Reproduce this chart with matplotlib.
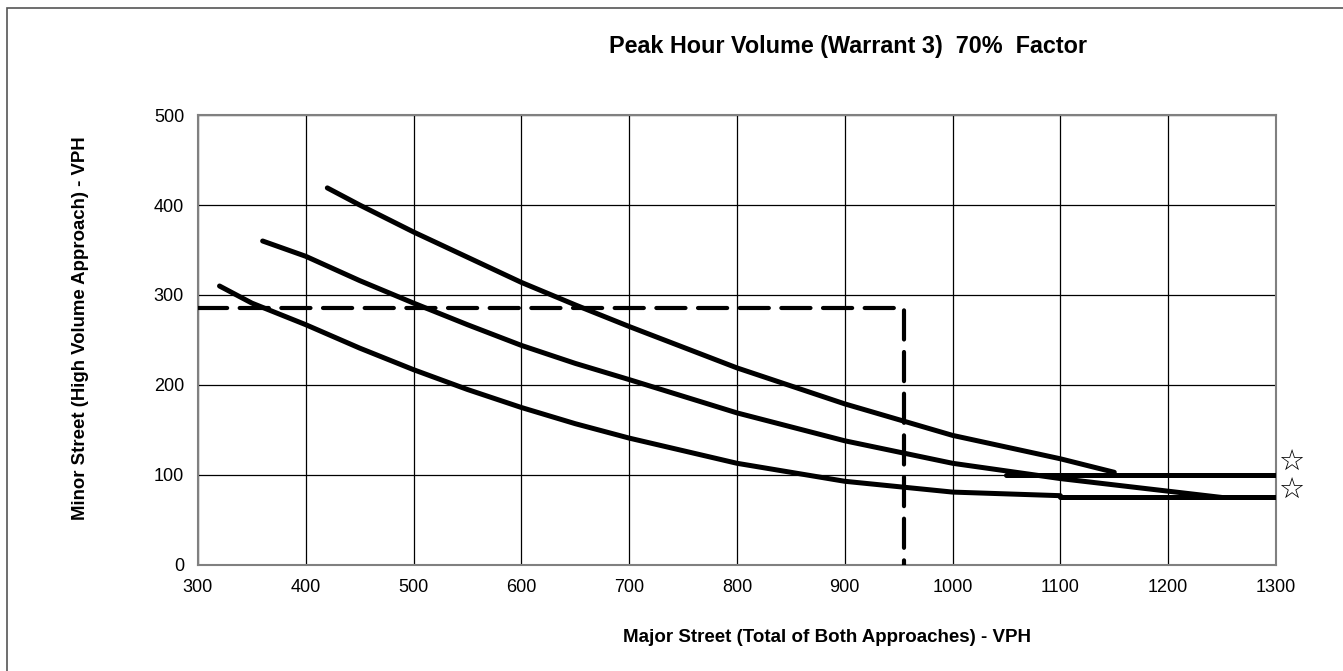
import matplotlib
matplotlib.use("Agg")
import matplotlib.pyplot as plt
from matplotlib.patches import Rectangle

plt.rcParams["font.family"] = ["Liberation Sans", "DejaVu Sans"]

# curves (major street vph, minor street vph)
top_x = [420, 450, 500, 550, 600, 650, 700, 800, 900, 1000, 1100, 1150]
top_y = [419, 400, 370, 342, 314, 289, 265, 219, 179, 144, 118, 103]
mid_x = [360, 400, 450, 500, 550, 600, 650, 700, 800, 900, 1000, 1100, 1200, 1250]
mid_y = [360, 343, 316, 291, 267, 244, 224, 206, 169, 138, 113, 96, 82, 75]
low_x = [320, 350, 400, 450, 500, 550, 600, 650, 700, 800, 900, 1000, 1100]
low_y = [310, 291, 267, 241, 217, 195, 175, 157, 141, 113, 93, 81, 77]

# lower thresholds
thr_hi_x = [1050, 1300]
thr_hi_y = [100, 100]
thr_lo_x = [1100, 1300]
thr_lo_y = [75, 75]

# the plotted point
major_vph = 955
minor_vph = 285

title = "Peak Hour Volume (Warrant 3)  70%  Factor"
xlabel = "Major Street (Total of Both Approaches) - VPH"
ylabel = "Minor Street (High Volume Approach) - VPH"
xticks = [300, 400, 500, 600, 700, 800, 900, 1000, 1100, 1200, 1300]
yticks = [0, 100, 200, 300, 400, 500]

fig = plt.figure(figsize=(13.43, 6.71), dpi=100)
ax = fig.add_axes([0.1474, 0.158, 0.8027, 0.6706])

lw = 3.6
for xs, ys in [(top_x, top_y), (mid_x, mid_y), (low_x, low_y),
               (thr_hi_x, thr_hi_y), (thr_lo_x, thr_lo_y)]:
    ax.plot(xs, ys, color="black", lw=lw, solid_capstyle="round",
            solid_joinstyle="round", zorder=3)

ax.plot([300, major_vph, major_vph], [minor_vph, minor_vph, 0],
        color="black", lw=3, dashes=(7, 3), dash_capstyle="round", zorder=4)

# stars beside the threshold lines
for yy in [115, 83]:
    ax.text(1314, yy, "\u2606", fontsize=21, ha="center", va="center",
            family="DejaVu Sans", clip_on=False)

ax.set_xlim(300, 1300)
ax.set_ylim(0, 500)
ax.set_xticks(xticks)
ax.set_yticks(yticks)
ax.grid(True, color="black", lw=0.9)
ax.set_axisbelow(True)
ax.tick_params(length=0, labelsize=13, pad=10)
for s in ax.spines.values():
    s.set_color("#808080")
    s.set_linewidth(1.5)

fig.text(0.6315, 0.93, title, ha="center", va="center", fontsize=16.8,
         fontweight="bold")
fig.text(0.6158, 0.05, xlabel, ha="center", va="center", fontsize=13.5,
         fontweight="bold")
fig.text(0.0596, 0.5104, ylabel, ha="center", va="center", fontsize=13.4,
         fontweight="bold", rotation=90)

# outer frame
fig.patches.append(Rectangle((6.5 / 1343, -0.05), 1.2, 1.05 - 7.5 / 671,
                             transform=fig.transFigure, fill=False,
                             edgecolor="#555555", lw=1.2))

fig.savefig("out.png", dpi=100)
